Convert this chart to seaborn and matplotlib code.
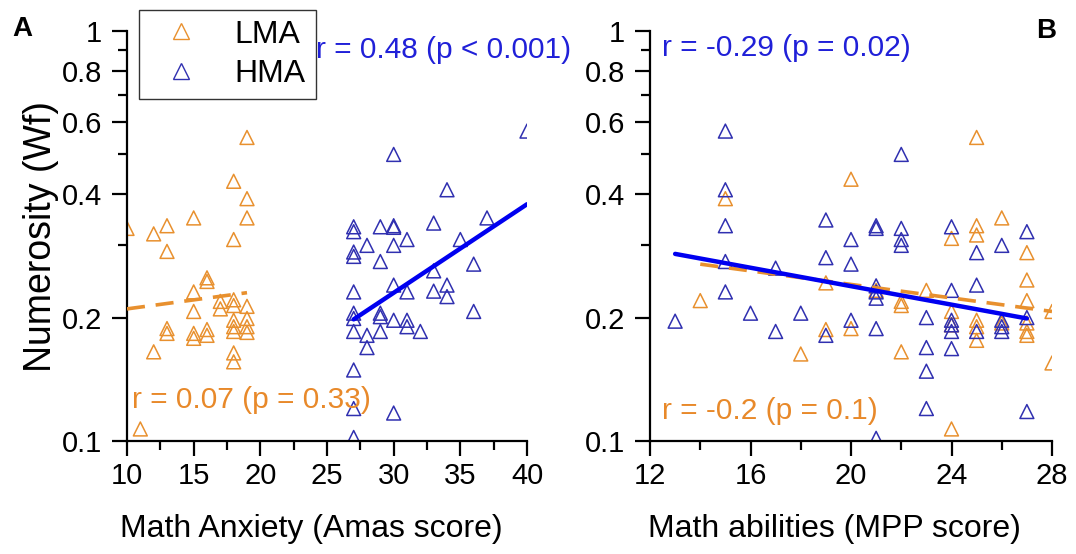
import numpy as np
import pandas as pd
import matplotlib
matplotlib.use("Agg")
import matplotlib.pyplot as plt
import seaborn as sns
from matplotlib.lines import Line2D
from matplotlib.ticker import FixedLocator, FixedFormatter, NullFormatter

# ---------------- data ----------------
# Panel A: Numerosity (Wf) vs Math Anxiety (AMAS score)
a_lma_x = [19, 18, 19, 19, 10, 12, 13, 15, 18, 13, 16, 16, 15, 15, 13, 13, 12, 15, 15,
           16, 16, 17, 17, 18, 18, 18, 18, 18, 18, 18, 19, 19, 19, 19, 11]
a_lma_y = [0.55, 0.43, 0.39, 0.35, 0.33, 0.32, 0.335, 0.35, 0.31, 0.29, 0.25, 0.245,
           0.231, 0.207, 0.188, 0.183, 0.165, 0.183, 0.178, 0.187, 0.181, 0.219, 0.21,
           0.221, 0.214, 0.197, 0.19, 0.185, 0.164, 0.156, 0.213, 0.199, 0.19, 0.184, 0.107]
a_hma_x = [40, 30, 34, 37, 33, 27, 27, 29, 30, 30, 28, 30, 31, 27, 27, 29, 35, 36, 33, 30,
           31, 33, 34, 34, 27, 36, 27, 27, 29, 29, 30, 31, 31, 27, 28, 29, 32, 28, 27, 27,
           30, 27]
a_hma_y = [0.57, 0.50, 0.41, 0.35, 0.34, 0.333, 0.324, 0.333, 0.335, 0.332, 0.30, 0.30,
           0.31, 0.289, 0.282, 0.274, 0.31, 0.27, 0.26, 0.24, 0.231, 0.232, 0.24, 0.225,
           0.231, 0.207, 0.205, 0.199, 0.205, 0.201, 0.197, 0.197, 0.19, 0.185, 0.181,
           0.185, 0.185, 0.169, 0.149, 0.12, 0.117, 0.102]

# Panel B: Numerosity (Wf) vs Math abilities (MPP score)
b_lma_x = [25, 20, 15, 26, 25, 25, 24, 27, 27, 27, 27, 27, 27, 28, 28, 14, 18, 19, 19,
           20, 22, 22, 22, 23, 24, 24, 24, 25, 25, 25, 26, 21]
b_lma_y = [0.55, 0.435, 0.39, 0.35, 0.335, 0.318, 0.312, 0.288, 0.247, 0.22, 0.194,
           0.185, 0.181, 0.207, 0.155, 0.22, 0.163, 0.243, 0.187, 0.188, 0.219, 0.214,
           0.165, 0.233, 0.207, 0.192, 0.107, 0.197, 0.19, 0.176, 0.194, 0.233]
b_hma_x = [15, 22, 15, 15, 15, 15, 13, 16, 17, 17, 18, 19, 19, 19, 20, 20, 20, 21, 21,
           21, 21, 21, 21, 21, 22, 22, 22, 23, 23, 23, 23, 24, 24, 24, 24, 24, 24, 25,
           25, 25, 26, 26, 26, 26, 27, 27, 27]
b_hma_y = [0.57, 0.50, 0.41, 0.335, 0.274, 0.231, 0.196, 0.205, 0.185, 0.264, 0.205,
           0.346, 0.28, 0.181, 0.31, 0.27, 0.197, 0.335, 0.33, 0.239, 0.231, 0.223,
           0.188, 0.1015, 0.33, 0.31, 0.30, 0.20, 0.169, 0.148, 0.12, 0.333, 0.233,
           0.197, 0.192, 0.185, 0.168, 0.288, 0.24, 0.185, 0.30, 0.197, 0.19, 0.185,
           0.324, 0.20, 0.118]

# regression lines (end points)
a_lma_fit_x = [10, 19]
a_lma_fit_y = [0.21, 0.23]
a_hma_fit_x = [27, 40]
a_hma_fit_y = [0.198, 0.378]
b_lma_fit_x = [14, 28]
b_lma_fit_y = [0.27, 0.207]
b_hma_fit_x = [13, 27]
b_hma_fit_y = [0.286, 0.199]

groups = ["LMA", "HMA"]
a_xticks = [10, 15, 20, 25, 30, 35, 40]
a_xminor = [12.5, 17.5, 22.5, 27.5, 32.5, 37.5]
b_xticks = [12, 16, 20, 24, 28]
b_xminor = [14, 18, 22, 26]
yticks = [0.1, 0.2, 0.4, 0.6, 0.8, 1]
ytick_labels = ["0.1", "0.2", "0.4", "0.6", "0.8", "1"]
yminor = [0.3, 0.5, 0.7, 0.9]

# ---------------- style ----------------
sns.set_theme(style="ticks")
plt.rcParams["font.family"] = ["Liberation Sans", "DejaVu Sans"]
plt.rcParams["text.color"] = "black"
plt.rcParams["axes.labelcolor"] = "black"
plt.rcParams["xtick.color"] = "black"
plt.rcParams["ytick.color"] = "black"
ORANGE = "#E8902E"
BLUE_M = "#3030B0"
BLUE_L = "#0000F0"
BLUE_T = "#2020D8"
ORANGE_T = "#E8892A"

W, H = 1076, 554
fig = plt.figure(figsize=(W / 100, H / 100), dpi=100)
axA = fig.add_axes([127 / W, 1 - 441 / H, 400 / W, 410 / H])
axB = fig.add_axes([650 / W, 1 - 441 / H, 402 / W, 410 / H])


def make_df(lx, ly, hx, hy):
    return pd.DataFrame({
        "x": list(lx) + list(hx),
        "y": list(ly) + list(hy),
        "group": ["LMA"] * len(lx) + ["HMA"] * len(hx),
    })


def scatter(ax, df):
    sns.scatterplot(data=df, x="x", y="y", hue="group", hue_order=groups,
                    palette={"LMA": ORANGE, "HMA": BLUE_M}, marker="^", s=100,
                    linewidth=1.1, legend=False, ax=ax, zorder=2)
    for coll in ax.collections:
        fc = coll.get_facecolors()
        coll.set_edgecolors(fc)
        coll.set_facecolors("none")


dfA = make_df(a_lma_x, a_lma_y, a_hma_x, a_hma_y)
dfB = make_df(b_lma_x, b_lma_y, b_hma_x, b_hma_y)
scatter(axA, dfA)
scatter(axB, dfB)

dash = (0, (5, 3))
sns.lineplot(x=a_lma_fit_x, y=a_lma_fit_y, ax=axA, color=ORANGE, lw=2.6,
             linestyle=dash, zorder=3)
sns.lineplot(x=a_hma_fit_x, y=a_hma_fit_y, ax=axA, color=BLUE_L, lw=3.2, zorder=4)
sns.lineplot(x=b_lma_fit_x, y=b_lma_fit_y, ax=axB, color=ORANGE, lw=2.6,
             linestyle=dash, zorder=3)
sns.lineplot(x=b_hma_fit_x, y=b_hma_fit_y, ax=axB, color=BLUE_L, lw=3.2, zorder=4)

for ax, xt, xm, xl in [(axA, a_xticks, a_xminor, "Math Anxiety (Amas score)"),
                       (axB, b_xticks, b_xminor, "Math abilities (MPP score)")]:
    ax.set_yscale("log")
    ax.set_ylim(0.1, 1)
    ax.set_xlim(xt[0], xt[-1])
    ax.yaxis.set_major_locator(FixedLocator(yticks))
    ax.yaxis.set_major_formatter(FixedFormatter(ytick_labels))
    ax.yaxis.set_minor_locator(FixedLocator(yminor))
    ax.yaxis.set_minor_formatter(NullFormatter())
    ax.xaxis.set_major_locator(FixedLocator(xt))
    ax.xaxis.set_minor_locator(FixedLocator(xm))
    ax.tick_params(which="major", direction="out", length=11, width=1.6,
                   colors="black", labelsize=21, pad=7)
    ax.tick_params(which="minor", direction="out", length=6.5, width=1.6,
                   colors="black")
    ax.tick_params(axis="x", pad=4)
    sns.despine(ax=ax)
    for s in ["left", "bottom"]:
        ax.spines[s].set_linewidth(1.6)
        ax.spines[s].set_color("black")
    ax.set_xlabel(xl, fontsize=23, labelpad=14)
    ax.xaxis.set_label_coords(0.46, -0.178)
    ax.set_ylabel("")
    ax.set_facecolor("white")

axA.set_ylabel("Numerosity (Wf)", fontsize=27, labelpad=2)

axA.text(0.472, 0.954, "r = 0.48 (p < 0.001)", transform=axA.transAxes,
         color=BLUE_T, fontsize=21.5, va="center", ha="left")
axA.text(0.013, 0.10, "r = 0.07 (p = 0.33)", transform=axA.transAxes,
         color=ORANGE_T, fontsize=21.5, va="center", ha="left")
axB.text(0.03, 0.958, "r = -0.29 (p = 0.02)", transform=axB.transAxes,
         color=BLUE_T, fontsize=21.5, va="center", ha="left")
axB.text(0.03, 0.073, "r = -0.2 (p = 0.1)", transform=axB.transAxes,
         color=ORANGE_T, fontsize=21.5, va="center", ha="left")

fig.text(22 / W, 1 - 29 / H, "A", fontsize=20, fontweight="bold", ha="center", va="center")
fig.text(1046 / W, 1 - 31 / H, "B", fontsize=20, fontweight="bold", ha="center", va="center")

handles = [Line2D([], [], marker="^", linestyle="none", markersize=11,
                  markerfacecolor="none", markeredgecolor=c, markeredgewidth=1.0)
           for c in (ORANGE, BLUE_M)]
leg = fig.legend(handles, groups, loc="upper left",
                 bbox_to_anchor=(139 / W, 1 - 10 / H), borderaxespad=0,
                 fontsize=23, frameon=True, fancybox=False, handlelength=2.0,
                 handletextpad=0.7, borderpad=0.3, labelspacing=0.3)
leg.get_frame().set_edgecolor("#333333")
leg.get_frame().set_linewidth(1.0)
leg.get_frame().set_alpha(1)

fig.savefig("out.png", dpi=100, facecolor="white")
